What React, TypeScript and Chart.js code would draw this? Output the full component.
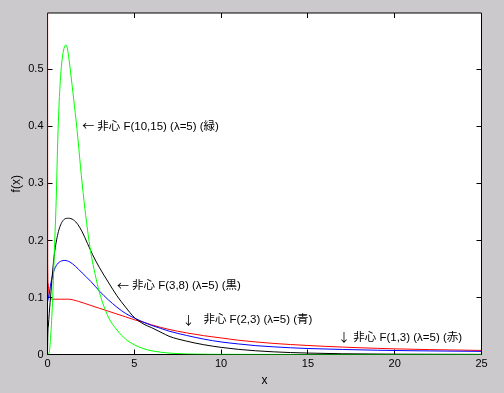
import React, { useEffect, useRef } from 'react';
import { Chart, registerables } from 'chart.js';

Chart.register(...registerables);

// Axis ticks
const xTicks = [0, 5, 10, 15, 20, 25];
const yTicks = [0, 0.1, 0.2, 0.3, 0.4, 0.5];
const X_MIN = 0;
const X_MAX = 25;
const Y_MIN = 0;
const Y_MAX = 0.599;

// Noncentral F(10,15), lambda = 5 (green)
const greenX = [0, 0.1, 0.2, 0.3, 0.4, 0.5, 0.6, 0.7, 0.8, 0.9, 1.0, 1.07, 1.15, 1.25, 1.35, 1.5, 1.7, 1.9, 2.1, 2.3, 2.5, 2.75, 3.0, 3.5, 4.0, 4.5, 5.0, 5.5, 6.0, 7.0, 8.0, 10, 15, 25];
const greenY = [0, 0.004, 0.04, 0.1, 0.185, 0.27, 0.385, 0.46, 0.505, 0.53, 0.541, 0.543, 0.536, 0.515, 0.49, 0.45, 0.395, 0.33, 0.27, 0.22, 0.178, 0.14, 0.108, 0.066, 0.043, 0.027, 0.017, 0.0105, 0.0065, 0.0025, 0.001, 0.0003, 0, 0];

// Noncentral F(3,8), lambda = 5 (black)
const blackX = [0, 0.02, 0.05, 0.1, 0.2, 0.3, 0.4, 0.6, 0.85, 1.2, 1.5, 1.75, 2.0, 2.3, 2.6, 3.0, 3.5, 4.0, 4.5, 5.0, 5.5, 6.0, 6.6, 7.0, 8.0, 9.0, 10, 11, 12, 13, 14, 15, 17, 20, 25];
const blackY = [0, 0.035, 0.05, 0.072, 0.11, 0.148, 0.177, 0.212, 0.233, 0.239, 0.236, 0.228, 0.215, 0.195, 0.175, 0.152, 0.127, 0.103, 0.083, 0.065, 0.054, 0.047, 0.038, 0.032, 0.0235, 0.0172, 0.0125, 0.009, 0.0065, 0.0047, 0.0034, 0.0025, 0.0013, 0.0006, 0.0002];

// Noncentral F(2,3), lambda = 5 (blue)
const blueX = [0, 0.1, 0.2, 0.35, 0.55, 0.8, 1.0, 1.3, 1.6, 2.0, 2.5, 3.0, 3.5, 4.0, 4.5, 5.0, 5.5, 6.0, 6.5, 7.0, 8.0, 9.0, 10, 11, 12, 13, 14, 15, 17, 19, 21, 23, 25];
const blueY = [0.092, 0.107, 0.126, 0.145, 0.158, 0.164, 0.165, 0.162, 0.155, 0.143, 0.128, 0.111, 0.096, 0.083, 0.072, 0.064, 0.057, 0.051, 0.046, 0.041, 0.0335, 0.027, 0.022, 0.0185, 0.0155, 0.0135, 0.0118, 0.0105, 0.0088, 0.0075, 0.0066, 0.006, 0.0055];

// Noncentral F(1,3), lambda = 5 (red)
const redX = [0, 0.015, 0.04, 0.08, 0.15, 0.3, 0.7, 1.2, 1.8, 2.5, 3.0, 3.5, 4.0, 4.5, 5.0, 5.5, 6.0, 7.0, 8.0, 9.0, 10, 11, 12, 13, 14, 15, 16, 17, 18, 19, 20, 22, 25];
const redY = [1.0, 0.16, 0.125, 0.106, 0.099, 0.097, 0.097, 0.097, 0.093, 0.086, 0.081, 0.076, 0.071, 0.066, 0.061, 0.057, 0.052, 0.044, 0.038, 0.033, 0.029, 0.025, 0.022, 0.0195, 0.0175, 0.0158, 0.0143, 0.013, 0.0118, 0.0108, 0.0099, 0.0086, 0.0071];

// Text annotations (anchored in data units)
const noteArrows = ['←', '←', '↓', '↓'];
const noteTexts = [
  '非心 F(10,15) (λ=5) (緑)',
  '非心 F(3,8) (λ=5) (黒)',
  '非心 F(2,3) (λ=5) (青)',
  '非心 F(1,3) (λ=5) (赤)',
];
const noteX = [2, 4, 7.77, 16.73];
const noteY = [0.4, 0.12, 0.06, 0.03];

// styles
const noteGap = [15, 15, 21, 15.3];
const TEXT_FONT = '11.5px "Liberation Sans", "Noto Sans CJK JP", sans-serif';
const ARROW_FONT = '12px "Noto Sans CJK JP", sans-serif';

const toPoints = (xs: number[], ys: number[]) => xs.map((x, i) => ({ x, y: ys[i] }));

const framePlugin = {
  id: 'matlabFrame',
  beforeDraw(chart: any) {
    const { ctx, chartArea } = chart;
    const { left, top, right, bottom } = chartArea;
    ctx.save();
    ctx.fillStyle = '#ffffff';
    ctx.fillRect(left, top, right - left, bottom - top);
    ctx.restore();
  },
  beforeDatasetsDraw(chart: any) {
    const { ctx, chartArea, scales } = chart;
    const { left, top, right, bottom } = chartArea;
    const L = 5;
    ctx.save();
    ctx.strokeStyle = '#000000';
    ctx.lineWidth = 1;
    ctx.beginPath();
    ctx.rect(left, top, right - left, bottom - top);
    ctx.stroke();
    ctx.beginPath();
    xTicks.forEach((v) => {
      const p = Math.floor(scales.x.getPixelForValue(v)) + 0.5;
      ctx.moveTo(p, bottom);
      ctx.lineTo(p, bottom - L);
      ctx.moveTo(p, top);
      ctx.lineTo(p, top + L);
    });
    yTicks.forEach((v) => {
      const p = Math.floor(scales.y.getPixelForValue(v)) + 0.5;
      ctx.moveTo(left, p);
      ctx.lineTo(left + L, p);
      ctx.moveTo(right, p);
      ctx.lineTo(right - L, p);
    });
    ctx.stroke();
    ctx.restore();
  },
  afterDatasetsDraw(chart: any) {
    const { ctx, scales } = chart;
    ctx.save();
    ctx.fillStyle = '#000000';
    ctx.textAlign = 'left';
    ctx.textBaseline = 'middle';
    noteTexts.forEach((t, i) => {
      const px = scales.x.getPixelForValue(noteX[i]);
      const py = scales.y.getPixelForValue(noteY[i]);
      ctx.font = ARROW_FONT;
      ctx.fillText(noteArrows[i], px, py);
      ctx.font = TEXT_FONT;
      ctx.fillText(t, px + noteGap[i], py);
    });
    ctx.restore();
  },
};

export default function App() {
  const canvasRef = useRef<HTMLCanvasElement | null>(null);

  useEffect(() => {
    const canvas = canvasRef.current;
    if (!canvas) return;
    const tickFont = { family: '"Liberation Sans", "Noto Sans CJK JP", sans-serif', size: 11 };
    const chart = new Chart(canvas, {
      type: 'line',
      data: {
        datasets: [
          { label: 'F(10,15)', data: toPoints(greenX, greenY), borderColor: '#00ff00' },
          { label: 'F(3,8)', data: toPoints(blackX, blackY), borderColor: '#000000' },
          { label: 'F(2,3)', data: toPoints(blueX, blueY), borderColor: '#0000ff' },
          { label: 'F(1,3)', data: toPoints(redX, redY), borderColor: '#ff0000' },
        ].map((d) => ({
          ...d,
          borderWidth: 1,
          pointRadius: 0,
          fill: false,
          cubicInterpolationMode: 'monotone' as const,
        })),
      },
      options: {
        animation: false,
        responsive: true,
        maintainAspectRatio: false,
        events: [],
        layout: { padding: { top: 13, right: 22.5, left: 0, bottom: 0 } },
        plugins: {
          legend: { display: false },
          tooltip: { enabled: false },
          title: { display: false },
        },
        scales: {
          x: {
            type: 'linear',
            min: X_MIN,
            max: X_MAX,
            grid: { display: false, drawTicks: false },
            border: { display: false },
            afterBuildTicks: (scale: any) => {
              scale.ticks = xTicks.map((v) => ({ value: v }));
            },
            afterFit: (scale: any) => {
              scale.height = 38.5;
            },
            ticks: {
              color: '#000000',
              font: tickFont,
              padding: 3,
              maxRotation: 0,
              autoSkip: false,
              callback: (v: any) => String(v),
            },
            title: {
              display: true,
              text: 'x',
              color: '#000000',
              font: { family: '"Liberation Sans", sans-serif', size: 12 },
              padding: { top: 0, bottom: 4.8 },
            },
          },
          y: {
            type: 'linear',
            min: Y_MIN,
            max: Y_MAX,
            grid: { display: false, drawTicks: false },
            border: { display: false },
            afterBuildTicks: (scale: any) => {
              scale.ticks = yTicks.map((v) => ({ value: v }));
            },
            afterFit: (scale: any) => {
              scale.width = 47.5;
            },
            ticks: {
              color: '#000000',
              font: tickFont,
              padding: 4,
              autoSkip: false,
              callback: (v: any) => String(Math.round(v * 10) / 10),
            },
            title: {
              display: true,
              text: 'f(x)',
              color: '#000000',
              font: { family: '"Liberation Sans", sans-serif', size: 12 },
              padding: { top: 9.5, bottom: 0 },
            },
          },
        },
      },
      plugins: [framePlugin],
    });
    return () => chart.destroy();
  }, []);

  return (
    <div
      style={{
        position: 'fixed',
        left: 0,
        top: 0,
        width: 504,
        height: 393,
        background: '#cbc9cb',
      }}
    >
      <canvas ref={canvasRef} />
    </div>
  );
}
